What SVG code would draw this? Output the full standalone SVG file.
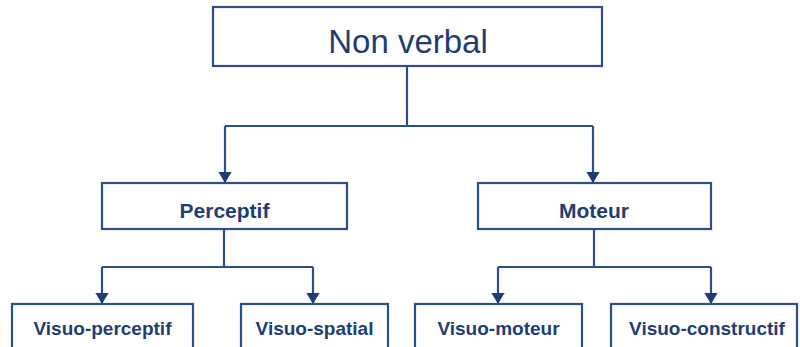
<svg xmlns="http://www.w3.org/2000/svg" width="800" height="347" viewBox="0 0 800 347">
<style>
.box{fill:#fff;stroke:#2a4f8a;stroke-width:2.2}
.ln{fill:none;stroke:#2a4f8a;stroke-width:2.2}
.t{font-family:"Liberation Sans",Arial,sans-serif;fill:#1f3d73;text-anchor:middle}
.t1{font-size:33px}
.t2{font-size:21px;font-weight:bold}
.t3{font-size:19px;font-weight:bold}
</style>
<defs>
<marker id="ah" viewBox="0 0 10 12" refX="10" refY="6" markerWidth="5" markerHeight="6" markerUnits="strokeWidth" orient="auto">
<path d="M0,0 L10,6 L0,12 Z" fill="#1f3d73"/>
</marker>
</defs>
<g id="connectors">
<path class="ln" d="M407,66 V126 M225,126 H593"/>
<path class="ln" d="M225,126 V183" marker-end="url(#ah)"/>
<path class="ln" d="M593,126 V183" marker-end="url(#ah)"/>
<path class="ln" d="M224,229 V267 M102,267 H313"/>
<path class="ln" d="M102,267 V304" marker-end="url(#ah)"/>
<path class="ln" d="M313,267 V304" marker-end="url(#ah)"/>
<path class="ln" d="M594,229 V267 M498,267 H711"/>
<path class="ln" d="M498,267 V304" marker-end="url(#ah)"/>
<path class="ln" d="M711,267 V304" marker-end="url(#ah)"/>
</g>
<g id="nonverbal">
<rect class="box" x="213" y="7" width="389" height="59"/>
<text class="t t1" x="408" y="53">Non verbal</text>
</g>
<g id="perceptif">
<rect class="box" x="102" y="183" width="245" height="46"/>
<text class="t t2" x="224.5" y="218">Perceptif</text>
</g>
<g id="moteur">
<rect class="box" x="478" y="183" width="233" height="46"/>
<text class="t t2" x="594" y="218">Moteur</text>
</g>
<g id="visuo-perceptif">
<rect class="box" x="12" y="304" width="181" height="50"/>
<text class="t t3" x="102.5" y="335">Visuo-perceptif</text>
</g>
<g id="visuo-spatial">
<rect class="box" x="241" y="304" width="147" height="50"/>
<text class="t t3" x="314.5" y="335">Visuo-spatial</text>
</g>
<g id="visuo-moteur">
<rect class="box" x="415" y="304" width="167" height="50"/>
<text class="t t3" x="498.5" y="335">Visuo-moteur</text>
</g>
<g id="visuo-constructif">
<rect class="box" x="611" y="304" width="186" height="50"/>
<text class="t t3" x="707" y="335">Visuo-constructif</text>
</g>
</svg>
